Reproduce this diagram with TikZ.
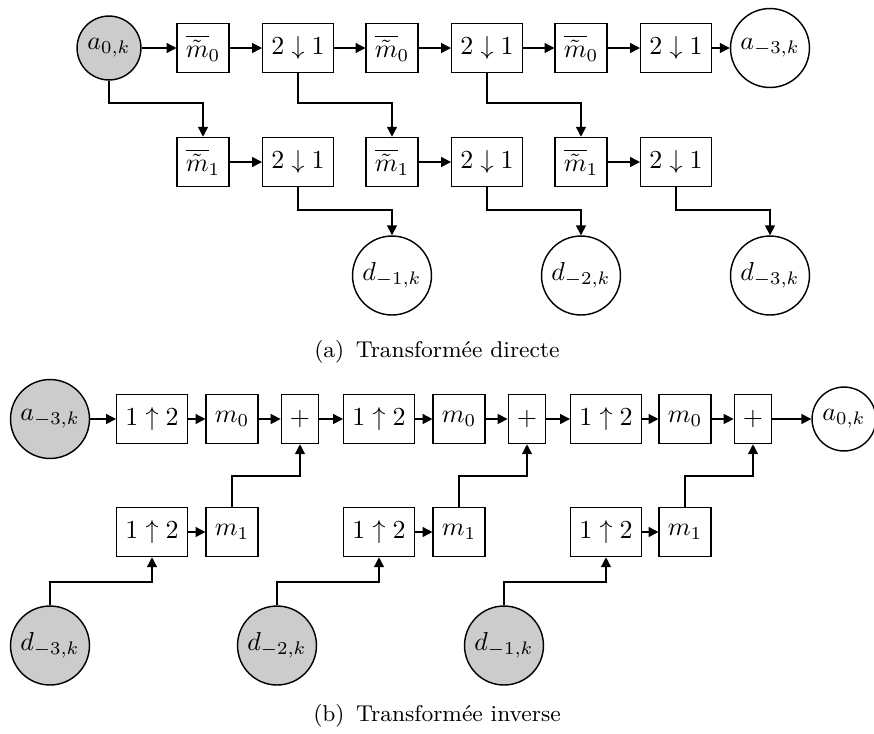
\documentclass[tikz,border=0pt]{standalone}
\usetikzlibrary{arrows.meta}
\begin{document}
\begin{tikzpicture}[x=0.385pt,y=-0.385pt, line width=0.55pt,
  box/.style={draw, rectangle, minimum height=18.9pt, inner sep=3.3pt},
  smallc/.style={draw, circle, minimum size=24.6pt, inner sep=0pt},
  bigc/.style={draw, circle, minimum size=30.4pt, inner sep=0pt},
  src/.style={fill=black!20},
  arr/.style={-{Triangle[length=3.8pt,width=3.8pt]}},
  captxt/.style={font=\fontsize{8.8}{10}\selectfont}]
\useasboundingbox (0,0) rectangle (874,733);
% ---------- (a) ----------
\coordinate (ya1) at (0,103);
\coordinate (ya2) at (0,210);
\node[smallc, src] (A0) at (109,48) {$a_{0,k}$};
\node[box] (M0a) at (203,48) {$\overline{\tilde m}_0$};
\node[box] (D1a) at (298,48) {$2\downarrow1$};
\node[box] (M0b) at (392,48) {$\overline{\tilde m}_0$};
\node[box] (D1b) at (487,48) {$2\downarrow1$};
\node[box] (M0c) at (581,48) {$\overline{\tilde m}_0$};
\node[box] (D1c) at (676,48) {$2\downarrow1$};
\node[bigc] (A3) at (770,48) {$a_{-3,k}$};
\node[box] (M1a) at (203,162) {$\overline{\tilde m}_1$};
\node[box] (D2a) at (298,162) {$2\downarrow1$};
\node[box] (M1b) at (392,162) {$\overline{\tilde m}_1$};
\node[box] (D2b) at (487,162) {$2\downarrow1$};
\node[box] (M1c) at (581,162) {$\overline{\tilde m}_1$};
\node[box] (D2c) at (676,162) {$2\downarrow1$};
\node[bigc] (Da) at (392,275.5) {$d_{-1,k}$};
\node[bigc] (Db) at (581,275.5) {$d_{-2,k}$};
\node[bigc] (Dc) at (770,275.5) {$d_{-3,k}$};
\foreach \a/\b in {A0/M0a,M0a/D1a,D1a/M0b,M0b/D1b,D1b/M0c,M0c/D1c,D1c/A3,M1a/D2a,M1b/D2b,M1c/D2c}
  \draw[arr] (\a) -- (\b);
\foreach \a/\b in {A0/M1a,D1a/M1b,D1b/M1c}
  \draw[arr] (\a.south) -- (\a.south |- ya1) -| (\b.north);
\foreach \a/\b in {D2a/Da,D2b/Db,D2c/Dc}
  \draw[arr] (\a.south) -- (\a.south |- ya2) -| (\b.north);
\node[captxt] (capa) at (437,352) {(a)\hspace{0.5em}Transformée directe};
% ---------- (b) ----------
\coordinate (yb1) at (0,476);
\coordinate (yb2) at (0,582);
\node[bigc, src] (B3) at (50,419) {$a_{-3,k}$};
\node[box] (U1) at (152,419) {$1\uparrow2$};
\node[box] (N0a) at (232,419) {$m_0$};
\node[box] (P1) at (300,419) {$+$};
\node[box] (U2) at (379,419) {$1\uparrow2$};
\node[box] (N0b) at (459,419) {$m_0$};
\node[box] (P2) at (527,419) {$+$};
\node[box] (U3) at (606,419) {$1\uparrow2$};
\node[box] (N0c) at (685,419) {$m_0$};
\node[box] (P3) at (753,419) {$+$};
\node[smallc] (B0) at (844,419) {$a_{0,k}$};
\node[box] (V1) at (152,532) {$1\uparrow2$};
\node[box] (N1a) at (232,532) {$m_1$};
\node[box] (V2) at (379,532) {$1\uparrow2$};
\node[box] (N1b) at (459,532) {$m_1$};
\node[box] (V3) at (606,532) {$1\uparrow2$};
\node[box] (N1c) at (685,532) {$m_1$};
\node[bigc, src] (E3) at (50,645.5) {$d_{-3,k}$};
\node[bigc, src] (E2) at (277,645.5) {$d_{-2,k}$};
\node[bigc, src] (E1) at (504,645.5) {$d_{-1,k}$};
\foreach \a/\b in {B3/U1,U1/N0a,N0a/P1,P1/U2,U2/N0b,N0b/P2,P2/U3,U3/N0c,N0c/P3,P3/B0,V1/N1a,V2/N1b,V3/N1c}
  \draw[arr] (\a) -- (\b);
\foreach \a/\b in {N1a/P1,N1b/P2,N1c/P3}
  \draw[arr] (\a.north) -- (\a.north |- yb1) -| (\b.south);
\foreach \a/\b in {E3/V1,E2/V2,E1/V3}
  \draw[arr] (\a.north) -- (\a.north |- yb2) -| (\b.south);
\node[captxt] (capb) at (437,716) {(b)\hspace{0.5em}Transformée inverse};
\end{tikzpicture}
\end{document}
